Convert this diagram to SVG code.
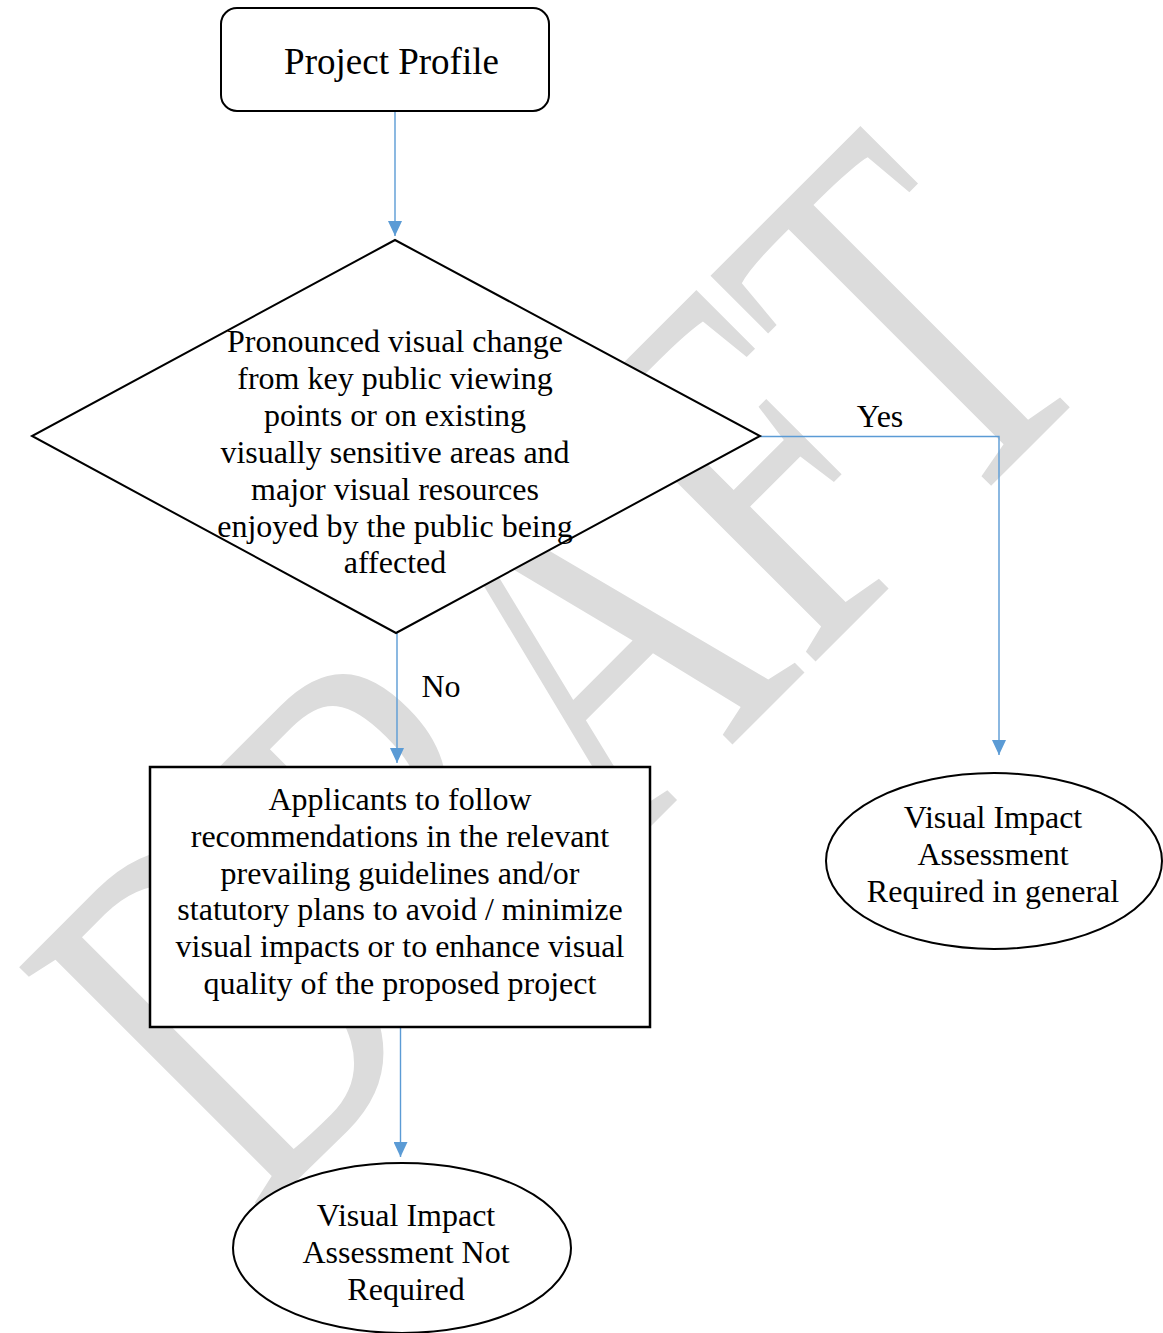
<svg xmlns="http://www.w3.org/2000/svg" width="1163" height="1333" viewBox="0 0 1163 1333">
<style>
.t{font-family:"Liberation Serif","Times New Roman",serif;font-size:32px;fill:#000;text-anchor:middle}
.shape{fill:#fff;stroke:#000;stroke-width:2}
.conn{fill:none;stroke:#5b9bd5;stroke-width:1.4}
.wm{font-family:"Liberation Serif","Times New Roman",serif;font-size:368px;fill:#dcdcdc}
</style>
<defs>
<marker id="ah" markerUnits="userSpaceOnUse" markerWidth="15" markerHeight="14" refX="15" refY="7" orient="auto">
<path d="M0,0 L15,7 L0,14 Z" fill="#5b9bd5"/>
</marker>
</defs>
<rect width="1163" height="1333" fill="#fff"/>
<g id="watermark">
<text class="wm" transform="translate(257,1220) rotate(-45) scale(1,1.44)">DRAFT</text>
</g>
<g id="connectors">
<line class="conn" x1="395" y1="111" x2="395" y2="236" marker-end="url(#ah)"/>
<polyline class="conn" points="760,436.5 999,436.5 999,755" marker-end="url(#ah)"/>
<line class="conn" x1="397" y1="633" x2="397" y2="763" marker-end="url(#ah)"/>
<line class="conn" x1="400.5" y1="1027" x2="400.5" y2="1157" marker-end="url(#ah)"/>
<text class="t" x="880" y="427">Yes</text>
<text class="t" x="441" y="697">No</text>
</g>
<g id="project-profile">
<rect class="shape" x="221" y="8" width="328" height="103" rx="16"/>
<text class="t" x="391.5" y="74" style="font-size:37px">Project Profile</text>
</g>
<g id="decision">
<polygon class="shape" points="395,240 760,436 396,633 32,436"/>
<text class="t" x="395" y="352"><tspan x="395">Pronounced visual change</tspan><tspan x="395" dy="36.9">from key public viewing</tspan><tspan x="395" dy="36.9">points or on existing</tspan><tspan x="395" dy="36.9">visually sensitive areas and</tspan><tspan x="395" dy="36.9">major visual resources</tspan><tspan x="395" dy="36.9">enjoyed by the public being</tspan><tspan x="395" dy="36.9">affected</tspan></text>
</g>
<g id="guidelines">
<rect class="shape" x="150" y="767" width="500" height="260" style="stroke-width:2.5"/>
<text class="t" x="400" y="810"><tspan x="400">Applicants to follow</tspan><tspan x="400" dy="36.8">recommendations in the relevant</tspan><tspan x="400" dy="36.8">prevailing guidelines and/or</tspan><tspan x="400" dy="36.8">statutory plans to avoid / minimize</tspan><tspan x="400" dy="36.8">visual impacts or to enhance visual</tspan><tspan x="400" dy="36.8">quality of the proposed project</tspan></text>
</g>
<g id="via-required">
<ellipse class="shape" cx="994" cy="861" rx="168" ry="88"/>
<text class="t" x="993" y="828"><tspan x="993">Visual Impact</tspan><tspan x="993" dy="36.8">Assessment</tspan><tspan x="993" dy="36.8">Required in general</tspan></text>
</g>
<g id="via-not-required">
<ellipse class="shape" cx="402" cy="1248" rx="169" ry="85"/>
<text class="t" x="406" y="1226"><tspan x="406">Visual Impact</tspan><tspan x="406" dy="36.8">Assessment Not</tspan><tspan x="406" dy="36.8">Required</tspan></text>
</g>
</svg>
